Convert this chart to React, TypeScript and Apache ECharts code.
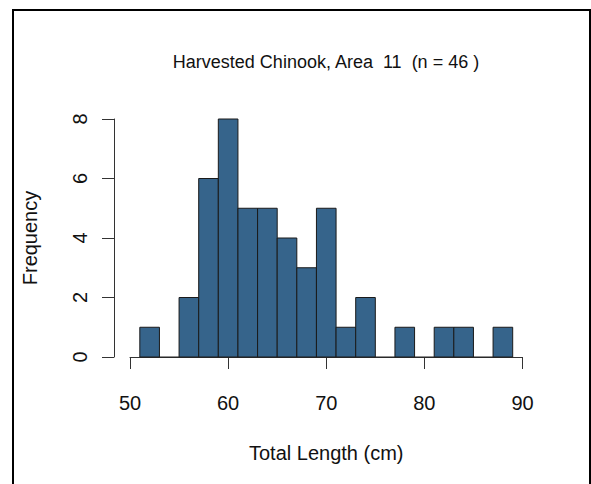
import React, { useEffect, useRef } from "react";
import * as echarts from "echarts";

const binEdges = [51, 53, 55, 57, 59, 61, 63, 65, 67, 69, 71, 73, 75, 77, 79, 81, 83, 85, 87, 89];
const counts = [1, 0, 2, 6, 8, 5, 5, 4, 3, 5, 1, 2, 0, 1, 0, 1, 1, 0, 1];
const xTicks = [50, 60, 70, 80, 90];
const yTicks = [0, 2, 4, 6, 8];
const titleText = "Harvested Chinook, Area  11  (n = 46 )";
const xName = "Total Length (cm)";
const yName = "Frequency";

const FONT = "Liberation Sans, Arial, sans-serif";

export default function App() {
  const ref = useRef<HTMLDivElement>(null);
  useEffect(() => {
    if (!ref.current) return;
    const chart = echarts.init(ref.current, null, { renderer: "svg" });
    const data = counts.map((c, i) => [binEdges[i], binEdges[i + 1], c]);
    const option = {
      animation: false,
      backgroundColor: "#ffffff",
      textStyle: { fontFamily: FONT },
      grid: { left: 130, right: 68.5, top: 119, bottom: 127, containLabel: false },
      xAxis: {
        type: "value",
        min: xTicks[0],
        max: xTicks[xTicks.length - 1],
        interval: 10,
        offset: 9,
        axisLine: { show: true, lineStyle: { color: "#333", width: 1 } },
        axisTick: { show: true, length: 12, lineStyle: { color: "#333", width: 1 } },
        axisLabel: { fontSize: 20, color: "#111", margin: 27, fontFamily: FONT },
        splitLine: { show: false },
        name: xName,
        nameLocation: "middle",
        nameGap: 77,
        nameTextStyle: { fontSize: 20, color: "#111", fontFamily: FONT },
      },
      yAxis: {
        type: "value",
        min: yTicks[0],
        max: yTicks[yTicks.length - 1],
        interval: 2,
        offset: 16,
        axisLine: { show: true, lineStyle: { color: "#333", width: 1 } },
        axisTick: { show: true, length: 12, lineStyle: { color: "#333", width: 1 } },
        axisLabel: { fontSize: 20, color: "#111", margin: 24, rotate: 90, fontFamily: FONT },
        splitLine: { show: false },
        name: yName,
        nameLocation: "middle",
        nameRotate: 90,
        nameGap: 74,
        nameTextStyle: { fontSize: 20, color: "#111", fontFamily: FONT },
      },
      graphic: [
        {
          type: "rect",
          shape: { x: 13, y: 10, width: 577, height: 500 },
          style: { fill: "none", stroke: "#000", lineWidth: 2 },
          silent: true,
        },
        {
          type: "text",
          x: 326,
          y: 62,
          style: {
            text: titleText,
            fontSize: 18,
            fontFamily: FONT,
            fill: "#111",
            textAlign: "center",
            textVerticalAlign: "middle",
          },
        },
      ],
      series: [
        {
          type: "custom",
          encode: { x: [0, 1], y: 2 },
          data,
          renderItem: (_params: any, api: any) => {
            const x0 = api.value(0);
            const x1 = api.value(1);
            const c = api.value(2);
            const p0 = api.coord([x0, 0]);
            const p1 = api.coord([x1, c]);
            if (c === 0) {
              return {
                type: "line",
                shape: { x1: p0[0], y1: p0[1], x2: p1[0], y2: p0[1] },
                style: { stroke: "#222", lineWidth: 1 },
              };
            }
            return {
              type: "rect",
              shape: { x: p0[0], y: p1[1], width: p1[0] - p0[0], height: p0[1] - p1[1] },
              style: { fill: "#36648B", stroke: "#1a1a1a", lineWidth: 1 },
            };
          },
        },
      ],
    };
    chart.setOption(option as any);
    return () => chart.dispose();
  }, []);
  return (
    <div
      ref={ref}
      style={{ position: "fixed", left: 0, top: 0, width: 591, height: 484 }}
    />
  );
}
